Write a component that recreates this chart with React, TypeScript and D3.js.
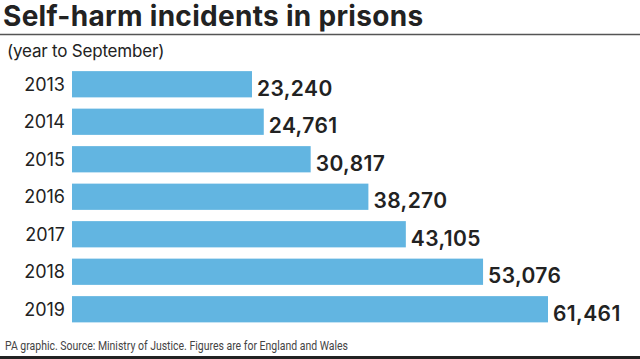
import * as d3 from 'd3';

const years = ['2013', '2014', '2015', '2016', '2017', '2018', '2019'];
const incidents = [23240, 24761, 30817, 38270, 43105, 53076, 61461];

const W = 640;
const H = 359;

export default function App() {
  // plot area for the bars
  const x0 = 72;
  const x = d3.scaleLinear().domain([0, 61461]).range([x0, 548]);
  const y = d3
    .scaleBand()
    .domain(years)
    .range([65.5, 328])
    .paddingInner(0.3)
    .paddingOuter(0.15);
  const fmt = d3.format(',');
  const font = 'Inter, "Noto Sans", sans-serif';

  return (
    <svg
      width={W}
      height={H}
      style={{ position: 'absolute', left: 0, top: 0 }}
      fontFamily={font}
    >
      <rect width={W} height={H} fill="#fff" />
      <text x={3} y={26} fontSize={28} fontWeight={700} fill="#222" letterSpacing={0.3}>
        Self-harm incidents in prisons
      </text>
      <line x1={0} x2={W} y1={34.5} y2={34.5} stroke="#555" strokeWidth={1.5} />
      <text x={7} y={57} fontSize={17} fill="#222" letterSpacing={-0.2}>
        (year to September)
      </text>

      {years.map((yr, i) => {
        const by = y(yr) ?? 0;
        const bh = y.bandwidth();
        const v = incidents[i];
        return (
          <g key={yr}>
            <rect x={x0} y={by} width={x(v) - x0} height={bh} fill="#62b5e1" />
            <text
              x={x0 - 7}
              y={by + bh / 2}
              dy="0.36em"
              textAnchor="end"
              fontSize={18}
              fill="#222"
              letterSpacing={0}
            >
              {yr}
            </text>
            <text
              x={x(v) + 5}
              y={by + bh / 2 + 4}
              dy="0.36em"
              fontSize={21}
              fontWeight={600}
              fill="#222"
              letterSpacing={0.4}
            >
              {fmt(v)}
            </text>
          </g>
        );
      })}

      <text
        x={5}
        y={350}
        fontSize={13}
        fill="#444"
        fontFamily="Roboto, sans-serif"
        textLength={343}
        lengthAdjust="spacingAndGlyphs"
      >
        PA graphic. Source: Ministry of Justice. Figures are for England and Wales
      </text>
      <line x1={0} x2={W} y1={357.5} y2={357.5} stroke="#222" strokeWidth={3} />
    </svg>
  );
}
